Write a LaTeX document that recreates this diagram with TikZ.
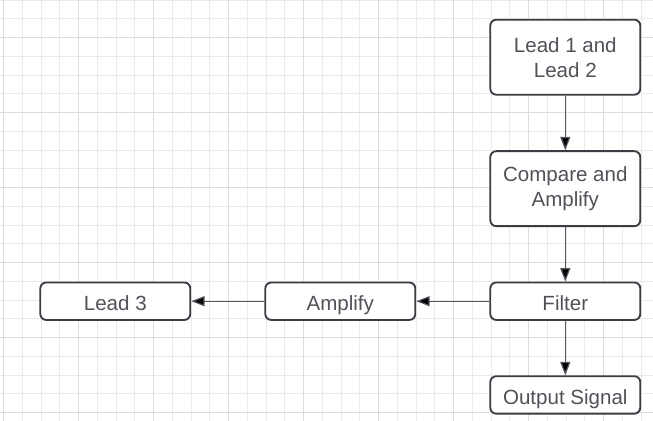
\documentclass[tikz,border=0pt]{standalone}
\usepackage{fontspec}
\setmainfont{Liberation Sans}
\usetikzlibrary{arrows.meta,positioning}

\definecolor{gridlo}{HTML}{EAEAEA}
\definecolor{gridhi}{HTML}{DCDCDC}
\definecolor{boxline}{HTML}{3A3D43}
\definecolor{boxtext}{HTML}{4F5258}
\definecolor{arrline}{HTML}{54575D}

\begin{document}
\begin{tikzpicture}[x=0.75pt,y=-0.75pt,on grid,
    boxbase/.style={draw=boxline,line width=1.4pt,fill=white,rounded corners=4.5pt,
      minimum width=112.5pt,inner sep=0pt,align=center,
      text=boxtext,font=\fontsize{15.4}{18.75}\selectfont},
    block/.style={boxbase,minimum height=28.1pt,text height=14pt,text depth=0pt},
    tall/.style={boxbase,minimum height=56.25pt},
    flow/.style={draw=arrline,line width=0.9pt,-{Triangle[length=10pt,width=7.5pt]}}]
   % background grid
   \useasboundingbox (0,0) rectangle (653,421);
   \fill[white] (0,0) rectangle (653,421);
   \foreach \gx in {0,...,34}
     \draw[gridlo,line width=0.75pt] (3.7+18.75*\gx,0) -- (3.7+18.75*\gx,421);
   \foreach \gy in {0,...,22}
     \draw[gridlo,line width=0.75pt] (0,0.2+18.75*\gy) -- (653,0.2+18.75*\gy);
   \foreach \gx in {0,...,8}
     \draw[gridhi,line width=0.9pt] (3.7+75*\gx,0) -- (3.7+75*\gx,421);
   \foreach \gy in {0,...,5}
     \draw[gridhi,line width=0.9pt] (0,37.7+75*\gy) -- (653,37.7+75*\gy);

   \node[tall] (lead_12) at (565.3,57.2) {Lead 1 and\\Lead 2};
   \node[tall] (cmp_amp) [below=98.6pt of lead_12] {Compare and\\Amplify};
   \node[block] (filt) [below=84.4pt of cmp_amp] {Filter};
   \node[block] (out_sig) [below=70.3pt of filt] {Output Signal};
   \node[block] (amp) [left=168.75pt of filt] {Amplify};
   \node[block] (lead_3) [left=168.75pt of amp] {Lead 3};
    \path[flow]
    (lead_12) edge (cmp_amp)
    (cmp_amp) edge (filt)
    (filt) edge (out_sig)
          edge (amp)
    (amp) edge (lead_3);
\end{tikzpicture}
\end{document}
